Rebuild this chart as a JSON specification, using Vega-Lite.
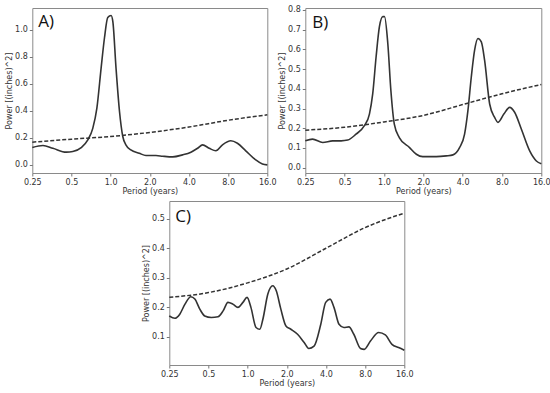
{
  "$schema": "https://vega.github.io/schema/vega-lite/v6.json",
  "padding": {"left": 5, "top": 5, "right": 0, "bottom": 2},
  "config": {
    "view": {"stroke": "#8a8a8a", "strokeWidth": 1},
    "axis": {
      "labelFont": "DejaVu Sans", "labelFontSize": 8, "labelColor": "#333", "labelOverlap": false,
      "titleFont": "DejaVu Sans", "titleFontSize": 8, "titleFontWeight": "normal", "titleColor": "#333",
      "tickColor": "#777", "tickSize": 3, "domain": false, "grid": false, "labelPadding": 2, "titlePadding": 1
    },
    "axisY": {"tickCount": 20}
  },
  "datasets": {
    "A_solid": [
      {"period": 0.25, "power": 0.128}, {"period": 0.302, "power": 0.143}, {"period": 0.36, "power": 0.123},
      {"period": 0.456, "power": 0.094}, {"period": 0.512, "power": 0.099}, {"period": 0.594, "power": 0.128},
      {"period": 0.668, "power": 0.185}, {"period": 0.729, "power": 0.27}, {"period": 0.784, "power": 0.42},
      {"period": 0.845, "power": 0.716}, {"period": 0.897, "power": 0.94}, {"period": 0.95, "power": 1.09},
      {"period": 1.008, "power": 1.105}, {"period": 1.04, "power": 1.06}, {"period": 1.1, "power": 0.716},
      {"period": 1.17, "power": 0.395}, {"period": 1.24, "power": 0.21}, {"period": 1.31, "power": 0.148},
      {"period": 1.43, "power": 0.111}, {"period": 1.66, "power": 0.086}, {"period": 1.87, "power": 0.069},
      {"period": 2.23, "power": 0.069}, {"period": 2.51, "power": 0.064}, {"period": 3.0, "power": 0.059},
      {"period": 3.57, "power": 0.074}, {"period": 4.14, "power": 0.094}, {"period": 4.66, "power": 0.123},
      {"period": 5.09, "power": 0.148}, {"period": 5.72, "power": 0.123}, {"period": 6.44, "power": 0.104},
      {"period": 7.24, "power": 0.148}, {"period": 8.39, "power": 0.178}, {"period": 9.43, "power": 0.16},
      {"period": 10.93, "power": 0.104}, {"period": 13.04, "power": 0.037}, {"period": 14.67, "power": 0.007},
      {"period": 16, "power": 0.0}
    ],
    "A_dash": [
      {"period": 0.25, "power": 0.168}, {"period": 0.5, "power": 0.19}, {"period": 1, "power": 0.21},
      {"period": 2, "power": 0.24}, {"period": 4, "power": 0.28}, {"period": 8, "power": 0.33}, {"period": 16, "power": 0.37}
    ],
    "B_solid": [
      {"period": 0.25, "power": 0.136}, {"period": 0.284, "power": 0.145}, {"period": 0.34, "power": 0.128},
      {"period": 0.405, "power": 0.136}, {"period": 0.47, "power": 0.136}, {"period": 0.528, "power": 0.14},
      {"period": 0.611, "power": 0.17}, {"period": 0.708, "power": 0.213}, {"period": 0.774, "power": 0.272},
      {"period": 0.82, "power": 0.374}, {"period": 0.87, "power": 0.56}, {"period": 0.923, "power": 0.715},
      {"period": 0.98, "power": 0.766}, {"period": 1.01, "power": 0.766}, {"period": 1.07, "power": 0.63},
      {"period": 1.13, "power": 0.39}, {"period": 1.2, "power": 0.221}, {"period": 1.31, "power": 0.153},
      {"period": 1.57, "power": 0.102}, {"period": 1.77, "power": 0.068}, {"period": 1.98, "power": 0.056},
      {"period": 2.51, "power": 0.056}, {"period": 3.0, "power": 0.06}, {"period": 3.37, "power": 0.065},
      {"period": 3.79, "power": 0.102}, {"period": 4.14, "power": 0.17}, {"period": 4.39, "power": 0.289},
      {"period": 4.66, "power": 0.46}, {"period": 4.94, "power": 0.596}, {"period": 5.24, "power": 0.655},
      {"period": 5.56, "power": 0.638}, {"period": 5.89, "power": 0.545}, {"period": 6.44, "power": 0.323},
      {"period": 7.03, "power": 0.255}, {"period": 7.46, "power": 0.23}, {"period": 8.27, "power": 0.272},
      {"period": 9.16, "power": 0.306}, {"period": 10.0, "power": 0.281}, {"period": 11.25, "power": 0.196},
      {"period": 13.04, "power": 0.085}, {"period": 14.67, "power": 0.034}, {"period": 16, "power": 0.02}
    ],
    "B_dash": [
      {"period": 0.25, "power": 0.19}, {"period": 0.5, "power": 0.205}, {"period": 1, "power": 0.232},
      {"period": 2, "power": 0.265}, {"period": 4, "power": 0.32}, {"period": 8, "power": 0.375}, {"period": 16, "power": 0.422}
    ],
    "C_solid": [
      {"period": 0.25, "power": 0.171}, {"period": 0.276, "power": 0.163}, {"period": 0.301, "power": 0.177},
      {"period": 0.33, "power": 0.211}, {"period": 0.366, "power": 0.236}, {"period": 0.393, "power": 0.228},
      {"period": 0.429, "power": 0.194}, {"period": 0.468, "power": 0.171}, {"period": 0.526, "power": 0.166},
      {"period": 0.592, "power": 0.168}, {"period": 0.648, "power": 0.188}, {"period": 0.706, "power": 0.217},
      {"period": 0.77, "power": 0.211}, {"period": 0.842, "power": 0.2}, {"period": 0.92, "power": 0.217},
      {"period": 0.99, "power": 0.234}, {"period": 1.06, "power": 0.2}, {"period": 1.16, "power": 0.132},
      {"period": 1.24, "power": 0.126}, {"period": 1.31, "power": 0.16}, {"period": 1.43, "power": 0.245},
      {"period": 1.56, "power": 0.273}, {"period": 1.66, "power": 0.256}, {"period": 1.8, "power": 0.194},
      {"period": 1.97, "power": 0.137}, {"period": 2.15, "power": 0.126}, {"period": 2.42, "power": 0.109},
      {"period": 2.72, "power": 0.081}, {"period": 2.95, "power": 0.061}, {"period": 3.24, "power": 0.069},
      {"period": 3.65, "power": 0.143}, {"period": 3.98, "power": 0.217}, {"period": 4.3, "power": 0.228},
      {"period": 4.61, "power": 0.2}, {"period": 5.04, "power": 0.143}, {"period": 5.49, "power": 0.132},
      {"period": 6.0, "power": 0.134}, {"period": 6.55, "power": 0.109}, {"period": 7.37, "power": 0.061},
      {"period": 7.88, "power": 0.058}, {"period": 8.79, "power": 0.086}, {"period": 10.17, "power": 0.115},
      {"period": 11.44, "power": 0.107}, {"period": 12.86, "power": 0.075}, {"period": 14.46, "power": 0.064},
      {"period": 16, "power": 0.055}
    ],
    "C_dash": [
      {"period": 0.25, "power": 0.234}, {"period": 0.5, "power": 0.25}, {"period": 1, "power": 0.283},
      {"period": 2, "power": 0.33}, {"period": 4, "power": 0.4}, {"period": 8, "power": 0.47}, {"period": 16, "power": 0.519}
    ],
    "labels": [
      {"panel": "A", "label": "A)", "period": 0.278, "power": 1.054},
      {"panel": "B", "label": "B)", "period": 0.283, "power": 0.736},
      {"panel": "C", "label": "C)", "period": 0.278, "power": 0.507}
    ]
  },
  "center": true,
  "spacing": 4,
  "vconcat": [
    {
      "spacing": 0,
      "hconcat": [
        {
          "width": 235, "height": 165,
          "layer": [
            {
              "data": {"name": "A_solid"},
              "mark": {"type": "line", "color": "#333", "strokeWidth": 1.6, "interpolate": "monotone"},
              "encoding": {
                "x": {"field": "period", "type": "quantitative",
                  "scale": {"type": "log", "base": 2, "domain": [0.25, 16], "nice": false},
                  "axis": {"values": [0.25, 0.5, 1, 2, 4, 8, 16], "tickCount": 20, "labelExpr": "datum.value == 0.25 ? '0.25' : format(datum.value, '.1f')", "title": "Period (years)", "labelFlush": false}},
                "y": {"field": "power", "type": "quantitative",
                  "scale": {"domain": [-0.06, 1.16], "nice": false, "zero": false},
                  "axis": {"values": [0, 0.2, 0.4, 0.6, 0.8, 1.0], "tickCount": 20, "labelExpr": "format(datum.value, '.1f')", "title": "Power [(inches)^2]"}}
              }
            },
            {
              "data": {"name": "A_dash"},
              "mark": {"type": "line", "color": "#333", "strokeWidth": 1.5, "strokeDash": [4, 2], "interpolate": "monotone"},
              "encoding": {"x": {"field": "period", "type": "quantitative"}, "y": {"field": "power", "type": "quantitative"}}
            },
            {
              "data": {"name": "labels"},
              "transform": [{"filter": "datum.panel == 'A'"}],
              "mark": {"type": "text", "align": "left", "baseline": "middle", "font": "Open Sans", "fontSize": 17, "color": "#111"},
              "encoding": {"x": {"field": "period", "type": "quantitative"}, "y": {"field": "power", "type": "quantitative"}, "text": {"field": "label"}}
            }
          ]
        },
        {
          "width": 236, "height": 165,
          "layer": [
            {
              "data": {"name": "B_solid"},
              "mark": {"type": "line", "color": "#333", "strokeWidth": 1.6, "interpolate": "monotone"},
              "encoding": {
                "x": {"field": "period", "type": "quantitative",
                  "scale": {"type": "log", "base": 2, "domain": [0.25, 16], "nice": false},
                  "axis": {"values": [0.25, 0.5, 1, 2, 4, 8, 16], "tickCount": 20, "labelExpr": "datum.value == 0.25 ? '0.25' : format(datum.value, '.1f')", "title": "Period (years)", "labelFlush": false}},
                "y": {"field": "power", "type": "quantitative",
                  "scale": {"domain": [-0.027, 0.81], "nice": false, "zero": false},
                  "axis": {"values": [0, 0.1, 0.2, 0.3, 0.4, 0.5, 0.6, 0.7, 0.8], "tickCount": 20, "labelExpr": "format(datum.value, '.1f')", "title": "Power [(inches)^2]"}}
              }
            },
            {
              "data": {"name": "B_dash"},
              "mark": {"type": "line", "color": "#333", "strokeWidth": 1.5, "strokeDash": [4, 2], "interpolate": "monotone"},
              "encoding": {"x": {"field": "period", "type": "quantitative"}, "y": {"field": "power", "type": "quantitative"}}
            },
            {
              "data": {"name": "labels"},
              "transform": [{"filter": "datum.panel == 'B'"}],
              "mark": {"type": "text", "align": "left", "baseline": "middle", "font": "Open Sans", "fontSize": 17, "color": "#111"},
              "encoding": {"x": {"field": "period", "type": "quantitative"}, "y": {"field": "power", "type": "quantitative"}, "text": {"field": "label"}}
            }
          ]
        }
      ]
    },
    {
      "width": 235, "height": 164,
      "layer": [
        {
          "data": {"name": "C_solid"},
          "mark": {"type": "line", "color": "#333", "strokeWidth": 1.6, "interpolate": "monotone"},
          "encoding": {
            "x": {"field": "period", "type": "quantitative",
              "scale": {"type": "log", "base": 2, "domain": [0.25, 16], "nice": false},
              "axis": {"values": [0.25, 0.5, 1, 2, 4, 8, 16], "tickCount": 20, "labelExpr": "datum.value == 0.25 ? '0.25' : format(datum.value, '.1f')", "title": "Period (years)", "labelFlush": false}},
            "y": {"field": "power", "type": "quantitative",
              "scale": {"domain": [0.005, 0.56], "nice": false, "zero": false},
              "axis": {"values": [0.1, 0.2, 0.3, 0.4, 0.5], "tickCount": 20, "labelExpr": "format(datum.value, '.1f')", "title": "Power [(inches)^2]"}}
          }
        },
        {
          "data": {"name": "C_dash"},
          "mark": {"type": "line", "color": "#333", "strokeWidth": 1.5, "strokeDash": [4, 2], "interpolate": "monotone"},
          "encoding": {"x": {"field": "period", "type": "quantitative"}, "y": {"field": "power", "type": "quantitative"}}
        },
        {
          "data": {"name": "labels"},
          "transform": [{"filter": "datum.panel == 'C'"}],
          "mark": {"type": "text", "align": "left", "baseline": "middle", "font": "Open Sans", "fontSize": 17, "color": "#111"},
          "encoding": {"x": {"field": "period", "type": "quantitative"}, "y": {"field": "power", "type": "quantitative"}, "text": {"field": "label"}}
        }
      ]
    }
  ]
}
